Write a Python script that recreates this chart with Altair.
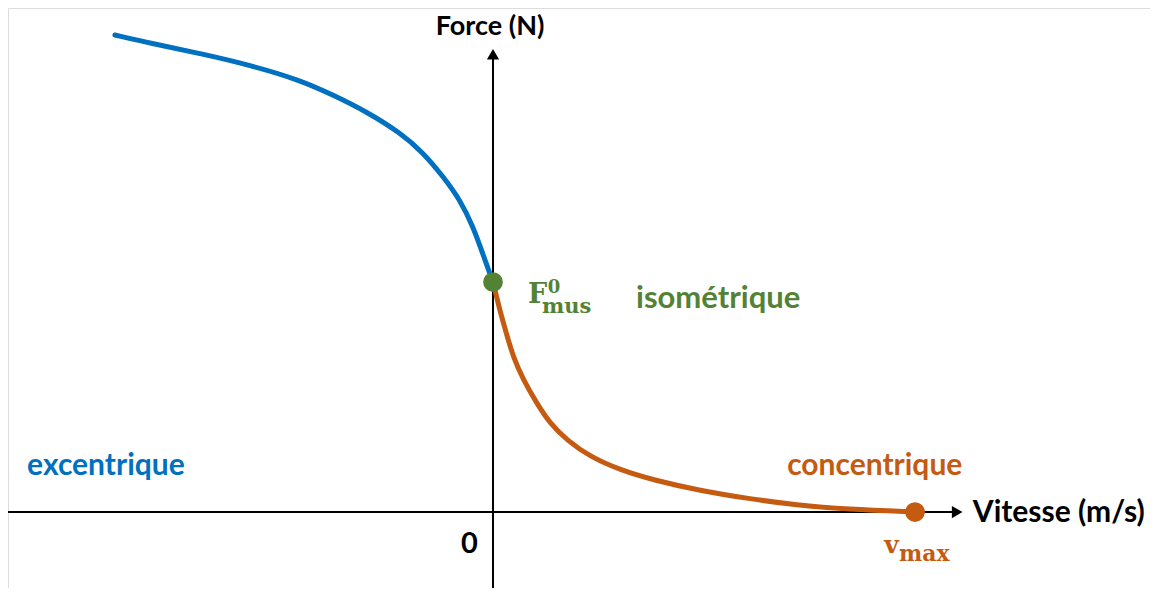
import altair as alt
import pandas as pd

# Force-velocity curve (velocity in units of v_max, force in units of F0_mus)
ecc_v = [-0.896, -0.813, -0.694, -0.576, -0.457, -0.379, -0.299, -0.220, -0.165, -0.118, -0.078, -0.047, -0.023, -0.003, 0.0]
ecc_f = [2.074, 2.038, 1.994, 1.943, 1.878, 1.813, 1.740, 1.649, 1.562, 1.458, 1.357, 1.240, 1.116, 1.014, 1.0]
con_v = [0.0, 0.016, 0.032, 0.048, 0.072, 0.104, 0.135, 0.175, 0.230, 0.301, 0.380, 0.483, 0.601, 0.720, 0.839, 1.0]
con_f = [1.0, 0.878, 0.775, 0.673, 0.574, 0.472, 0.385, 0.313, 0.240, 0.183, 0.139, 0.096, 0.059, 0.030, 0.012, 0.0]

BLUE = "#0070C0"
ORANGE = "#C55A11"
GREEN = "#548235"
FONT = "Lato"

xs = alt.Scale(domain=[-1.1493, 1.5569], nice=False, zero=False)
ys = alt.Scale(domain=[-0.3304, 2.1913], nice=False, zero=False)

ecc = pd.DataFrame({"v": ecc_v, "f": ecc_f, "o": range(len(ecc_v))})
con = pd.DataFrame({"v": con_v, "f": con_f, "o": range(len(con_v))})

X = lambda f="v": alt.X(f"{f}:Q", scale=xs, axis=None)
Y = lambda f="f": alt.Y(f"{f}:Q", scale=ys, axis=None)

# axes
hax = pd.DataFrame({"v": [-1.1493], "v2": [1.09], "f": [0.0]})
vax = pd.DataFrame({"v": [0.0], "f": [-0.3304], "f2": [1.97]})
h_rule = alt.Chart(hax).mark_rule(color="black", strokeWidth=2).encode(
    x=X(), x2="v2:Q", y=Y())
v_rule = alt.Chart(vax).mark_rule(color="black", strokeWidth=2).encode(
    x=X(), y=Y(), y2="f2:Q")
arr_r = alt.Chart(pd.DataFrame({"v": [1.1], "f": [0.0]})).mark_point(
    shape="triangle-right", filled=True, color="black", size=150, opacity=1).encode(x=X(), y=Y())
arr_u = alt.Chart(pd.DataFrame({"v": [0.0], "f": [1.99]})).mark_point(
    shape="triangle-up", filled=True, color="black", size=150, opacity=1).encode(x=X(), y=Y())

ecc_line = alt.Chart(ecc).mark_line(color=BLUE, strokeWidth=5, strokeCap="round", interpolate="basis").encode(
    x=X(), y=Y(), order="o:Q")
con_line = alt.Chart(con).mark_line(color=ORANGE, strokeWidth=5, strokeCap="round", interpolate="basis").encode(
    x=X(), y=Y(), order="o:Q")

f0_pt = alt.Chart(pd.DataFrame({"v": [0.0], "f": [1.0]})).mark_circle(
    color=GREEN, size=390, opacity=1).encode(x=X(), y=Y())
vmax_pt = alt.Chart(pd.DataFrame({"v": [1.0], "f": [0.0]})).mark_circle(
    color=ORANGE, size=390, opacity=1).encode(x=X(), y=Y())

def label(text, v, f, color, size, font=FONT, align="left", baseline="alphabetic"):
    d = pd.DataFrame({"v": [v], "f": [f], "t": [text]})
    return alt.Chart(d).mark_text(
        color=color, fontSize=size, font=font, fontWeight="bold",
        align=align, baseline=baseline).encode(x=X(), y=Y(), text="t:N")

labels = [
    label("Force (N)", -0.007, 2.165, "black", 27, align="center", baseline="top"),
    label("Vitesse (m/s)", 1.137, -0.0435, "black", 30),
    label("0", -0.0557, -0.178, "black", 29, align="center"),
    label("excentrique", -1.104, 0.161, BLUE, 30),
    label("concentrique", 0.697, 0.161, ORANGE, 30),
    label("isométrique", 0.339, 0.887, GREEN, 31),
    label("F", 0.083, 0.909, GREEN, 27, font="DejaVu Serif"),
    label("0", 0.130, 0.952, GREEN, 18, font="DejaVu Serif"),
    label("mus", 0.116, 0.865, GREEN, 21, font="DejaVu Serif"),
    label("v", 0.927, -0.178, ORANGE, 25, font="DejaVu Serif"),
    label("max", 0.962, -0.213, ORANGE, 22, font="DejaVu Serif"),
]

chart = alt.layer(h_rule, v_rule, arr_r, arr_u, ecc_line, con_line, f0_pt, vmax_pt, *labels).properties(
    width=1142, height=580, padding=0,
    autosize=alt.AutoSizeParams(type="none"),
).configure_view(stroke=None).configure(background="white")

chart.save("out.html", embed_options={"renderer": "svg", "actions": False})
